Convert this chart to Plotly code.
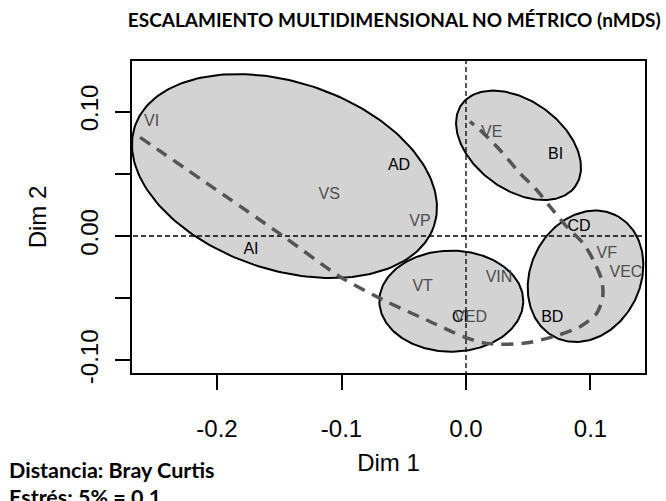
import numpy as np
import plotly.graph_objects as go

# Site scores (nMDS axes)
site_names = ["VI", "AD", "VS", "VP", "AI", "VE", "BI", "CD", "VF", "VEC",
              "VIN", "VT", "CI", "VED", "BD"]
site_dim1 = [-0.2525, -0.0538, -0.1098, -0.0370, -0.1727, 0.0206, 0.0720, 0.0908,
             0.1130, 0.1285, 0.0265, -0.0348, -0.0048, 0.0038, 0.0693]
site_dim2 = [0.0919, 0.0563, 0.0330, 0.0115, -0.0113, 0.0825, 0.0650, 0.0075,
             -0.0145, -0.0295, -0.0340, -0.0412, -0.0659, -0.0659, -0.0660]
site_group = ["v", "s", "v", "v", "s", "v", "s", "s", "v", "v",
              "v", "v", "s", "v", "s"]

# Group ellipses: centre, semi-axes, rotation (degrees)
ell_cx = [-0.1458, 0.0422, 0.0960, -0.0118]
ell_cy = [0.0482, 0.0729, -0.0324, -0.0524]
ell_a = [0.1266, 0.0563, 0.0548, 0.0578]
ell_b = [0.0754, 0.0358, 0.0441, 0.0406]
ell_rot = [-18.4, -36.0, 63.5, 0.0]

# Fitted gradient curve
curve_dim1 = [-0.2618, -0.1470, -0.1012, -0.0637, -0.0316, -0.0022, 0.0166, 0.0460,
              0.0701, 0.0916, 0.1050, 0.1098, 0.1090, 0.1022, 0.0942, 0.0809,
              0.0675, 0.0568, 0.0434, 0.0273, 0.0112, 0.0032]
curve_dim2 = [0.0793, 0.0000, -0.0327, -0.0528, -0.0675, -0.0809, -0.0863, -0.0863,
              -0.0809, -0.0729, -0.0621, -0.0488, -0.0354, -0.0193, -0.0059, 0.0075,
              0.0236, 0.0370, 0.0504, 0.0691, 0.0852, 0.0919]

x_ticks = [-0.2, -0.1, 0.0, 0.1]
x_ticktext = ["-0.2", "-0.1", "0.0", "0.1"]
y_ticks = [-0.10, -0.05, 0.0, 0.05, 0.10]
y_ticktext = ["-0.10", "", "0.00", "", "0.10"]

SANS = "Arial, Liberation Sans, sans-serif"

fig = go.Figure()

t = np.linspace(0, 2 * np.pi, 200)
for cx, cy, a, b, rot in zip(ell_cx, ell_cy, ell_a, ell_b, ell_rot):
    th = np.deg2rad(rot)
    ex = cx + a * np.cos(t) * np.cos(th) - b * np.sin(t) * np.sin(th)
    ey = cy + a * np.cos(t) * np.sin(th) + b * np.sin(t) * np.cos(th)
    fig.add_trace(go.Scatter(x=ex, y=ey, mode="lines", fill="toself",
                             fillcolor="#d3d3d3",
                             line=dict(color="black", width=2),
                             hoverinfo="skip", showlegend=False))

# Reference lines through the origin
fig.add_trace(go.Scatter(x=[-1, 1], y=[0, 0], mode="lines",
                         line=dict(color="black", width=1.3, dash="5px,3px"),
                         hoverinfo="skip", showlegend=False))
fig.add_trace(go.Scatter(x=[0, 0], y=[-1, 1], mode="lines",
                         line=dict(color="black", width=1.3, dash="5px,3px"),
                         hoverinfo="skip", showlegend=False))

fig.add_trace(go.Scatter(x=curve_dim1, y=curve_dim2, mode="lines",
                         line=dict(color="#555555", width=3.5, dash="12px,8px",
                                   shape="spline", smoothing=0.8),
                         hoverinfo="skip", showlegend=False))

colors = ["#4d4d4d" if g == "v" else "black" for g in site_group]
fig.add_trace(go.Scatter(x=site_dim1, y=site_dim2, mode="text", text=site_names,
                         textfont=dict(family=SANS, size=16, color=colors),
                         textposition="middle center",
                         hoverinfo="skip", showlegend=False))

axis_font = dict(family=SANS, size=24, color="black")
fig.update_xaxes(range=[-0.26827, 0.14378], tickvals=x_ticks, ticktext=x_ticktext,
                 ticks="outside", ticklen=15, tickwidth=1.5, tickcolor="black",
                 ticklabelstandoff=18,
                 showline=True, linecolor="black", linewidth=1.5, mirror=True,
                 showgrid=False, zeroline=False, tickfont=axis_font,
                 title=dict(text="Dim 1", font=axis_font, standoff=14))
fig.update_yaxes(range=[-0.11013, 0.14068], tickvals=y_ticks, ticktext=y_ticktext,
                 ticks="outside", ticklen=15, tickwidth=1.5, tickcolor="black",
                 tickangle=-90, ticklabelstandoff=8,
                 showline=True, linecolor="black", linewidth=1.5, mirror=True,
                 showgrid=False, zeroline=False, tickfont=axis_font,
                 title=dict(text="Dim 2", font=axis_font, standoff=22))

fig.update_layout(
    width=666, height=501,
    margin=dict(l=132, r=21, t=61, b=128),
    paper_bgcolor="white", plot_bgcolor="white",
    font=dict(family=SANS),
    title=dict(text="<b>ESCALAMIENTO MULTIDIMENSIONAL NO MÉTRICO (nMDS)</b>",
               font=dict(family="Lato", size=19, color="black"),
               x=0.592, xanchor="center", y=0.96, yanchor="middle"),
    annotations=[
        dict(text="<b>Distancia: Bray Curtis</b>", xref="paper", yref="paper",
             x=-125 / 513, y=-97 / 312, xanchor="left", yanchor="middle",
             showarrow=False, font=dict(family="Lato", size=21.5, color="black")),
        dict(text="<b>Estrés: 5% = 0.1</b>", xref="paper", yref="paper",
             x=-125 / 513, y=-124 / 312, xanchor="left", yanchor="middle",
             showarrow=False, font=dict(family="Lato", size=21.5, color="black")),
    ],
)

fig.write_html("out.html")
